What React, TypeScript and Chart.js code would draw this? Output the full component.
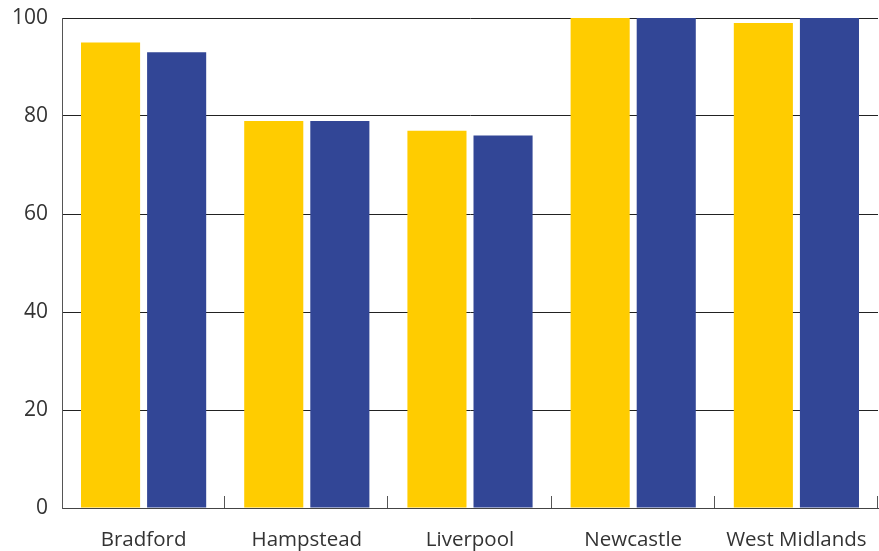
import React, { useEffect, useRef } from "react";
import { Chart, registerables } from "chart.js";

Chart.register(...registerables);

const categories = ["Bradford", "Hampstead", "Liverpool", "Newcastle", "West Midlands"];
const seriesA = [95, 79, 77, 100, 99];
const seriesB = [93, 79, 76, 100, 100];
const yTicks = [0, 20, 40, 60, 80, 100];

const FONT = "'Open Sans', 'DejaVu Sans', sans-serif";

// Short upward tick marks on the category axis, between categories
const categoryTicks = {
  id: "categoryTicks",
  afterDatasetsDraw(chart: any) {
    const { ctx, chartArea, scales } = chart;
    const x = scales.x;
    const n = categories.length;
    const step = (chartArea.right - chartArea.left) / n;
    ctx.save();
    ctx.strokeStyle = "#555";
    ctx.lineWidth = 1;
    for (let i = 1; i <= n; i++) {
      const px = Math.round(x.left + step * i) - 0.5;
      ctx.beginPath();
      ctx.moveTo(px, chartArea.bottom);
      ctx.lineTo(px, chartArea.bottom - 12);
      ctx.stroke();
    }
    ctx.restore();
  },
};

export default function App() {
  const ref = useRef<HTMLCanvasElement | null>(null);

  useEffect(() => {
    document.body.style.margin = "0";
    const canvas = ref.current;
    if (!canvas) return;
    const chart = new Chart(canvas, {
      type: "bar",
      data: {
        labels: categories,
        datasets: [
          {
            data: seriesA,
            backgroundColor: "#FFCC00",
            borderWidth: 0,
            categoryPercentage: 0.81,
            barPercentage: 0.894,
          },
          {
            data: seriesB,
            backgroundColor: "#324696",
            borderWidth: 0,
            categoryPercentage: 0.81,
            barPercentage: 0.894,
          },
        ],
      },
      options: {
        responsive: false,
        animation: false,
        layout: { padding: { top: 18, right: 1, left: 0, bottom: 0 } },
        plugins: {
          legend: { display: false },
          tooltip: { enabled: false },
        },
        scales: {
          x: {
            grid: { display: false },
            border: { display: true, color: "#444", width: 1 },
            ticks: {
              color: "#333",
              padding: 12,
              font: { family: FONT, size: 20.5 },
            },
            afterFit(scale: any) {
              scale.height = 43;
            },
          },
          y: {
            min: 0,
            max: 100,
            afterBuildTicks(scale: any) {
              scale.ticks = yTicks.map((v) => ({ value: v }));
            },
            grid: { color: "#222", lineWidth: 1, drawTicks: false },
            border: { display: true, color: "#555", width: 1 },
            ticks: {
              color: "#333",
              padding: 14,
              font: { family: FONT, size: 21 },
            },
            afterFit(scale: any) {
              scale.width = 62;
              scale.paddingTop = 0;
              scale.paddingBottom = 0;
            },
          },
        },
      },
      plugins: [categoryTicks],
    });
    return () => chart.destroy();
  }, []);

  return (
    <div style={{ width: 879, height: 551, background: "#fff" }}>
      <canvas ref={ref} width={879} height={551} style={{ display: "block" }} />
    </div>
  );
}
